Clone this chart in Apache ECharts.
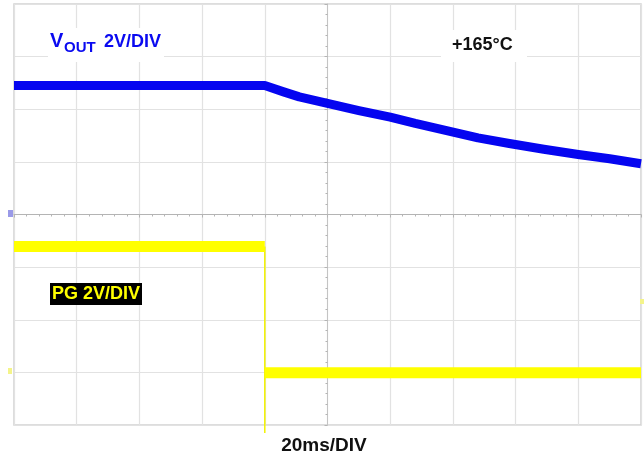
<!DOCTYPE html>
<html>
<head>
<meta charset="utf-8">
<script src="https://cdn.jsdelivr.net/npm/echarts@6/dist/echarts.min.js"></script>
<style>
html,body{margin:0;padding:0;background:#fff;}
#c{width:644px;height:461px;}
</style>
</head>
<body>
<div id="c"></div>
<script>
// Time in ms (20 ms/div, trigger at centre), voltage in V (2 V/div)
const xTicks = [-100, -80, -60, -40, -20, 0, 20, 40, 60, 80, 100];
const yTicks = [-8, -6, -4, -2, 0, 2, 4, 6, 8];

const voutTime = [-100, -60, -20, -14, -9, 0, 10, 20, 28, 38, 48, 58, 69, 80, 90, 100];
const voutVolt = [4.9, 4.9, 4.9, 4.66, 4.47, 4.22, 3.95, 3.70, 3.46, 3.19, 2.91, 2.70, 2.48, 2.28, 2.12, 1.93];

const pgHighTime = [-100, -20];
const pgHighVolt = [-1.22, -1.22];
const pgLowTime = [-20, 100];
const pgLowVolt = [-6.01, -6.01];
const pgEdgeTime = [-20, -20];
const pgEdgeVolt = [-1.22, -8.3];

const labels = {
  vout: 'V', voutSub: 'OUT', voutScale: '2V/DIV',
  temp: '+165°C', pg: 'PG 2V/DIV', time: '20ms/DIV'
};

const zip = (xs, ys) => xs.map((x, i) => [x, ys[i]]);
const FONT = '"Liberation Sans", Arial, sans-serif';

const chart = echarts.init(document.getElementById('c'), null, {renderer: 'canvas'});
chart.setOption({
  animation: false,
  backgroundColor: '#ffffff',
  grid: {left: 14, right: 3, top: 4, bottom: 36, show: true, borderColor: '#d2d2d2', borderWidth: 1.5, containLabel: false},
  xAxis: {
    type: 'value', min: xTicks[0], max: xTicks[xTicks.length - 1], interval: 20,
    axisLabel: {show: false},
    axisLine: {show: true, onZero: true, lineStyle: {color: '#b4b4b4', width: 1}},
    axisTick: {show: true, length: 3, lineStyle: {color: '#b4b4b4'}},
    minorTick: {show: true, splitNumber: 5, length: 2, lineStyle: {color: '#b4b4b4'}},
    splitLine: {show: true, lineStyle: {color: '#e2e2e2', width: 1.2}}
  },
  yAxis: {
    type: 'value', min: yTicks[0], max: yTicks[yTicks.length - 1], interval: 2,
    axisLabel: {show: false},
    axisLine: {show: true, onZero: true, lineStyle: {color: '#c4c4c4', width: 1}},
    axisTick: {show: true, length: 3, lineStyle: {color: '#b4b4b4'}},
    minorTick: {show: true, splitNumber: 5, length: 2, lineStyle: {color: '#b4b4b4'}},
    splitLine: {show: true, lineStyle: {color: '#e2e2e2', width: 1.2}}
  },
  series: [
    {type: 'line', name: 'PG edge', data: zip(pgEdgeTime, pgEdgeVolt), symbol: 'none', clip: false,
     lineStyle: {color: '#f2f200', width: 1.5}},
    {type: 'line', name: 'PG high', data: zip(pgHighTime, pgHighVolt), symbol: 'none',
     lineStyle: {color: '#ffff00', width: 11, cap: 'butt'}},
    {type: 'line', name: 'PG low', data: zip(pgLowTime, pgLowVolt), symbol: 'none',
     lineStyle: {color: '#ffff00', width: 11, cap: 'butt'}},
    {type: 'line', name: 'VOUT', data: zip(voutTime, voutVolt), symbol: 'none', smooth: false,
     lineStyle: {color: '#0505f0', width: 9, cap: 'butt', join: 'round'}}
  ],
  graphic: [
    {type: 'rect', shape: {x: 48, y: 28, width: 116, height: 34}, style: {fill: '#ffffff'}, z: 100},
    {type: 'text', x: 50, y: 51, z: 101, style: {text: labels.vout, font: 'bold 20px ' + FONT, fill: '#0a0af0', verticalAlign: 'bottom', textVerticalAlign: 'bottom'}},
    {type: 'text', x: 64, y: 55, z: 101, style: {text: labels.voutSub, font: 'bold 15px ' + FONT, fill: '#0a0af0', verticalAlign: 'bottom', textVerticalAlign: 'bottom'}},
    {type: 'text', x: 104, y: 51, z: 101, style: {text: labels.voutScale, font: 'bold 18px ' + FONT, fill: '#0a0af0', verticalAlign: 'bottom', textVerticalAlign: 'bottom'}},
    {type: 'rect', shape: {x: 441, y: 30, width: 86, height: 32}, style: {fill: '#ffffff'}, z: 100},
    {type: 'text', x: 452, y: 54, z: 101, style: {text: labels.temp, font: 'bold 18px ' + FONT, fill: '#111111', verticalAlign: 'bottom', textVerticalAlign: 'bottom'}},
    {type: 'rect', shape: {x: 50, y: 283, width: 92, height: 22}, style: {fill: '#000000'}, z: 100},
    {type: 'text', x: 96, y: 294, z: 101, style: {text: labels.pg, font: 'bold 18px ' + FONT, fill: '#ffff00', align: 'center', textAlign: 'center', verticalAlign: 'middle', textVerticalAlign: 'middle'}},
    {type: 'text', x: 324, y: 446, z: 101, style: {text: labels.time, font: 'bold 19px ' + FONT, fill: '#111111', align: 'center', textAlign: 'center', verticalAlign: 'middle', textVerticalAlign: 'middle'}},
    {type: 'rect', shape: {x: 8, y: 210, width: 5, height: 7}, style: {fill: '#9a9ae8'}, z: 100},
    {type: 'rect', shape: {x: 8, y: 368, width: 4, height: 6}, style: {fill: '#f4f48a'}, z: 100},
    {type: 'rect', shape: {x: 640, y: 299, width: 4, height: 5}, style: {fill: '#f4f48a'}, z: 100}
  ]
});
</script>
</body>
</html>
